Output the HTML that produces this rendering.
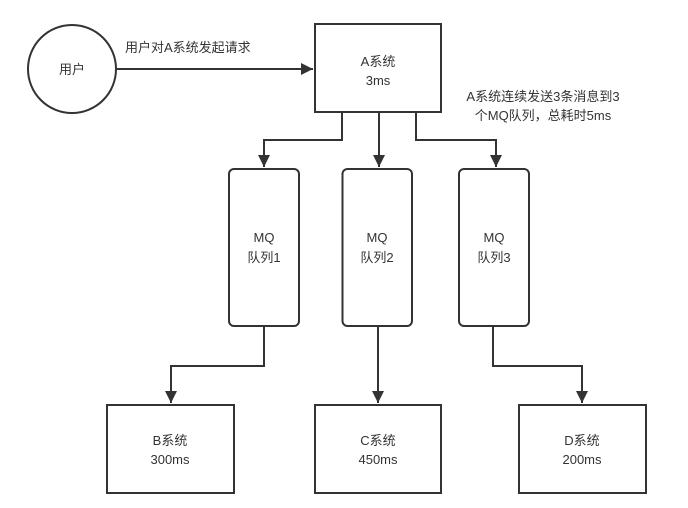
<!DOCTYPE html>
<html><head><meta charset="utf-8"><style>
html,body{margin:0;padding:0;background:#fff;}
svg{display:block;}
text{font-family:"Liberation Sans","Noto Sans CJK SC",sans-serif;font-size:13px;fill:#333;}
</style></head><body>
<svg width="688" height="508" viewBox="0 0 688 508" xmlns="http://www.w3.org/2000/svg">
<defs>
<marker id="ah" markerWidth="10" markerHeight="10" refX="9" refY="5" orient="auto" markerUnits="userSpaceOnUse">
<path d="M0,0 L10,5 L0,10 Z" fill="#333"/>
</marker>
<marker id="av" markerWidth="12" markerHeight="14" refX="12" refY="6" orient="auto" markerUnits="userSpaceOnUse">
<path d="M0,0 L12,6 L0,12 Z" fill="#333"/>
</marker>
</defs>
<g stroke="#333" stroke-width="2" fill="#fff">
<ellipse cx="72" cy="69" rx="44" ry="44"/>
<rect x="315" y="24" width="126" height="88"/>
<rect x="229" y="169" width="70" height="157" rx="5"/>
<rect x="342.5" y="169" width="69.5" height="157" rx="5"/>
<rect x="459" y="169" width="70" height="157" rx="5"/>
<rect x="107" y="405" width="127" height="88"/>
<rect x="315" y="405" width="126" height="88"/>
<rect x="519" y="405" width="127" height="88"/>
</g>
<g stroke="#333" stroke-width="2" fill="none">
<line x1="116" y1="69" x2="313" y2="69" marker-end="url(#av)"/>
<polyline points="342,112 342,140 264,140 264,167" marker-end="url(#av)"/>
<line x1="379" y1="112" x2="379" y2="167" marker-end="url(#av)"/>
<polyline points="416,112 416,140 496,140 496,167" marker-end="url(#av)"/>
<polyline points="264,326 264,366 171,366 171,403" marker-end="url(#av)"/>
<line x1="378" y1="326" x2="378" y2="403" marker-end="url(#av)"/>
<polyline points="493,326 493,366 582,366 582,403" marker-end="url(#av)"/>
</g>
<g text-anchor="middle">
<text x="72" y="74">用户</text>
<text x="378" y="66">A系统</text>
<text x="378" y="85">3ms</text>
<text x="264" y="242">MQ</text>
<text x="264" y="262">队列1</text>
<text x="377" y="242">MQ</text>
<text x="377" y="262">队列2</text>
<text x="494" y="242">MQ</text>
<text x="494" y="262">队列3</text>
<text x="170" y="445">B系统</text>
<text x="170" y="464">300ms</text>
<text x="378" y="445">C系统</text>
<text x="378" y="464">450ms</text>
<text x="582" y="445">D系统</text>
<text x="582" y="464">200ms</text>
<text x="543" y="101">A系统连续发送3条消息到3</text>
<text x="543" y="120">个MQ队列，总耗时5ms</text>
</g>
<text x="125" y="52">用户对A系统发起请求</text>
</svg>
</body></html>
